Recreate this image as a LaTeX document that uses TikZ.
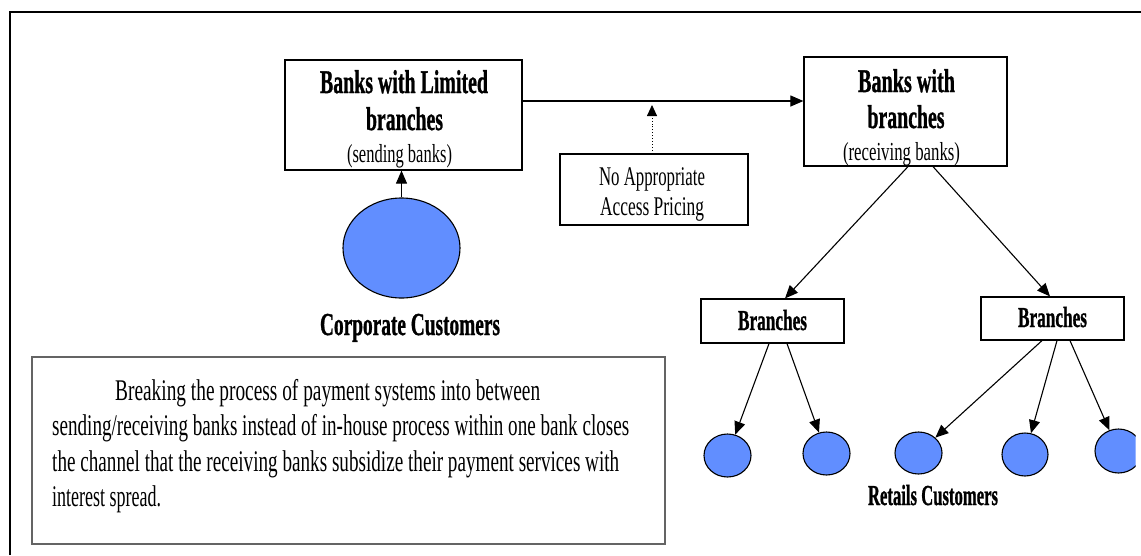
\documentclass[tikz,border=0pt]{standalone}
\usepackage{fontspec}
\setmainfont{Liberation Serif}[BoldFeatures={FakeBold=1.2}]
\usetikzlibrary{arrows.meta,shapes.geometric}
\definecolor{cblue}{RGB}{97,142,255}
\definecolor{tgray}{RGB}{100,100,100}
\newcommand\fw[3]{\resizebox{#1pt}{\height}{\fontsize{#2}{#2}\selectfont #3}}
\tikzset{
  box/.style={draw=black, line width=1.2pt, fill=white, inner sep=0pt},
  tbox/.style={draw=tgray, line width=1.4pt, inner sep=0pt},
  cust/.style={ellipse, draw=black, line width=1.1pt, fill=cblue, inner sep=0pt},
  txt/.style={inner sep=0pt, anchor=base},
  txtl/.style={inner sep=0pt, anchor=base west},
  arr/.style={-{Triangle[length=13pt,width=11pt]}, line width=1.1pt},
  darr/.style={-{Triangle[length=11pt,width=10pt]}, line width=0.9pt, dotted},
  frame/.style={draw=black, line width=1.4pt}
}
\begin{document}
\begin{tikzpicture}[x=1pt,y=-1pt]
\useasboundingbox (0,0) rectangle (1141,555);
\fill[white] (0,0) rectangle (1141,555);
\coordinate (fr1) at (10,555);
\coordinate (fr2) at (1141,12);
\draw[frame] (fr1) |- (fr2);

% boxes
\node[box, minimum width=237pt, minimum height=110pt] (b1) at (403.5,115) {};
\node[box, minimum width=203pt, minimum height=109pt] (b2) at (905.5,111.5) {};
\node[box, minimum width=188pt, minimum height=71pt] (note) at (654,189.5) {};
\node[box, minimum width=143pt, minimum height=44pt] (br1) at (772.5,321) {};
\node[box, minimum width=143pt, minimum height=43pt] (br2) at (1052.5,318.5) {};
\node[tbox, minimum width=633pt, minimum height=187pt] (tb) at (348.5,450.5) {};

% customers
\node[cust, minimum width=117pt, minimum height=100pt] (cc) at (401.5,248) {};
\node[cust, minimum width=47pt, minimum height=43pt] (c1) at (727.5,455.5) {};
\node[cust, minimum width=47pt, minimum height=43pt] (c2) at (826.5,453.5) {};
\node[cust, minimum width=47pt, minimum height=42pt] (c3) at (918.5,453) {};
\node[cust, minimum width=46pt, minimum height=43pt] (c4) at (1025,454.5) {};
\begin{scope}
\clip (1080,400) rectangle (1135.5,500);
\node[cust, minimum width=47pt, minimum height=44pt] (c5) at (1118.5,451) {};
\end{scope}

% texts
\node[txt] (t1a) at (404,93) {\fw{168}{33}{\bfseries Banks with Limited}};
\node[txt] (t1b) at (404.5,130) {\fw{77}{33}{\bfseries branches}};
\node[txt] (t1c) at (399.5,162) {\fw{105}{26}{(sending banks)}};
\node[txt] (t2a) at (906.5,92) {\fw{97}{33}{\bfseries Banks with}};
\node[txt] (t2b) at (906,128) {\fw{77}{33}{\bfseries branches}};
\node[txt] (t2c) at (901.5,160) {\fw{117}{26}{(receiving banks)}};
\node[txt] (n1) at (652,185) {\fw{106}{27}{No Appropriate}};
\node[txt] (n2) at (652,215) {\fw{104}{27}{Access Pricing}};
\node[txt] (bt1) at (772.5,330) {\fw{69}{29}{\bfseries Branches}};
\node[txt] (bt2) at (1052.5,327) {\fw{69}{29}{\bfseries Branches}};
\node[txt] (cct) at (410,335) {\fw{180}{32}{\bfseries Corporate Customers}};
\node[txt] (rct) at (933,505) {\fw{130}{29}{\bfseries Retails Customers}};
\node[txtl] (p1) at (115,400) {\fw{425}{30}{Breaking the process of payment systems into between}};
\node[txtl] (p2) at (52,435.5) {\fw{577}{30}{sending/receiving banks instead of in-house process within one bank closes}};
\node[txtl] (p3) at (52,471) {\fw{567}{30}{the channel that the receiving banks subsidize their payment services with}};
\node[txtl] (p4) at (52,506.5) {\fw{109}{30}{interest spread.}};

% connectors
\coordinate (my) at (0,101);
\coordinate (dt) at (652,105);
\draw[arr] (b1.east |- my) -- (b2.west |- my);
\draw[darr] (note.north -| dt) -- (dt);
\draw[arr] (cc.north) -- (cc.north |- b1.south);
\draw[arr] ([xshift=2.5pt]b2.south) -- ([xshift=12.5pt]br1.north);
\draw[arr] ([xshift=27.5pt]b2.south) -- ([xshift=-2.5pt]br2.north);
\draw[arr] ([xshift=-3.5pt]br1.south) -- (c1);
\draw[arr] ([xshift=14.5pt]br1.south) -- (c2);
\draw[arr] ([xshift=-10.5pt]br2.south) -- (c3);
\draw[arr] ([xshift=4.5pt]br2.south) -- (c4);
\draw[arr] ([xshift=17.5pt]br2.south) -- (c5);
\end{tikzpicture}
\end{document}
